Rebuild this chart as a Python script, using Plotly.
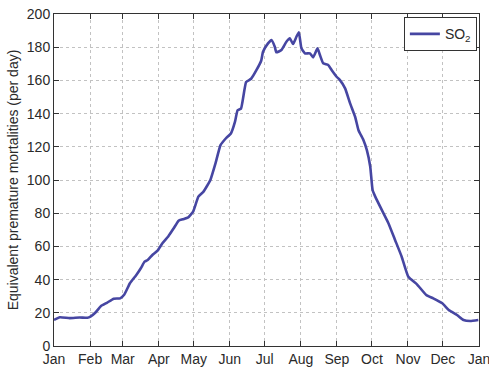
import pandas as pd
import plotly.graph_objects as go

# Day of year (0 = 1 Jan) and equivalent premature mortalities per day from SO2
day_of_year = [
    0, 5, 13.5, 22, 28.7, 31.3, 35.4, 40.2, 45.4, 51.3, 56.8,
    60.4, 65.2, 70.7, 74.7, 77.8, 80.5, 84.7, 88.9,
    93.1, 98.1, 102.8, 107, 110.6, 115.3, 119.5,
    124.0, 128.4, 134.3, 138.7, 143.0, 147.5,
    151.9, 155.4, 157.7, 160.6, 165.0, 169.3, 173.7, 178.0,
    179.5, 183.8, 186.7, 189.6, 191.0, 195.3, 199.6, 202.5, 205.3, 208.2, 210.3,
    212.5, 215.5, 219.8, 222.6, 226.3, 228.4, 231.2, 235.5, 238.4,
    242.7, 245.6, 250.0, 254.3, 258.6, 261.5, 265.8, 268.7, 271.6,
    273.6, 275.9, 281.5, 287.2, 292.9, 298.6,
    304.3, 311.9, 319.7, 325.7, 333.5,
    339.0, 346.1, 351.7, 357.4, 364.4,
]
so2_mortality = [
    15.7, 17.3, 16.8, 17.2, 17.0, 17.7, 20.0, 24.0, 26.0, 28.5, 28.7,
    31.0, 37.8, 42.8, 47.0, 50.8, 51.8, 55.0, 57.4,
    61.9, 66.0, 70.9, 75.5, 76.3, 77.5, 81.0,
    90.0, 93.0, 100.0, 110.0, 121.0, 125.0,
    128.0, 135.0, 142.0, 143.0, 159.0, 161.0, 166.0, 172.0,
    177.3, 182.3, 184.3, 180.3, 176.9, 178.3, 183.3, 185.4, 181.9, 186.3, 189.0,
    179.3, 176.3, 176.3, 173.9, 179.3, 175.3, 170.3, 169.3, 166.3,
    162.2, 160.2, 155.2, 146.2, 138.1, 130.0, 124.0, 118.0, 108.0,
    94.0, 90.0, 82.0, 74.0, 63.9, 53.8,
    41.7, 37.0, 30.7, 28.7, 25.7,
    21.7, 18.7, 15.7, 15.1, 15.7,
]

month_starts = ["2005-01-01", "2005-02-01", "2005-03-01", "2005-04-01",
                "2005-05-01", "2005-06-01", "2005-07-01", "2005-08-01",
                "2005-09-01", "2005-10-01", "2005-11-01", "2005-12-01",
                "2006-01-01"]
month_labels = ["Jan", "Feb", "Mar", "Apr", "May", "Jun", "Jul",
                "Aug", "Sep", "Oct", "Nov", "Dec", "Jan"]
y_ticks = [0, 20, 40, 60, 80, 100, 120, 140, 160, 180, 200]

dates = pd.Timestamp("2005-01-01") + pd.to_timedelta(day_of_year, unit="D")

FONT_FAMILY = "Liberation Sans, Arial, sans-serif"
TEXT_COLOR = "#2a2a2a"
tick_font = dict(family=FONT_FAMILY, size=14, color=TEXT_COLOR)

fig = go.Figure()
fig.add_trace(go.Scatter(
    x=dates, y=so2_mortality, mode="lines", name="SO<sub>2</sub>",
    line=dict(color="#4646a2", width=2.6, shape="spline", smoothing=0.4),
))

common_axis = dict(
    ticks="inside", ticklen=5, tickcolor="#333333",
    showline=True, linecolor="#333333", linewidth=1, mirror="ticks",
    showgrid=True, gridcolor="#c2c2c2", griddash="dot", gridwidth=1,
    zeroline=False, tickfont=tick_font, automargin=False,
    ticklabeloverflow="allow",
)

fig.update_layout(
    width=489, height=367,
    margin=dict(l=54, r=10, t=14, b=21),
    paper_bgcolor="white", plot_bgcolor="white",
    font=tick_font,
    showlegend=True,
    legend=dict(
        x=0.995, y=0.99, xanchor="right", yanchor="top",
        bgcolor="white", bordercolor="#333333", borderwidth=1,
        font=dict(family=FONT_FAMILY, size=14, color=TEXT_COLOR),
        tracegroupgap=0, itemwidth=30,
    ),
    xaxis=dict(
        range=["2005-01-01", "2006-01-01"],
        tickvals=month_starts, ticktext=month_labels,
        **common_axis,
    ),
    yaxis=dict(
        range=[0, 200], tickvals=y_ticks,
        title=dict(text="Equivalent premature mortalities (per day)",
                   font=dict(family=FONT_FAMILY, size=14, color=TEXT_COLOR),
                   standoff=4),
        **common_axis,
    ),
)

fig.write_html("out.html")
